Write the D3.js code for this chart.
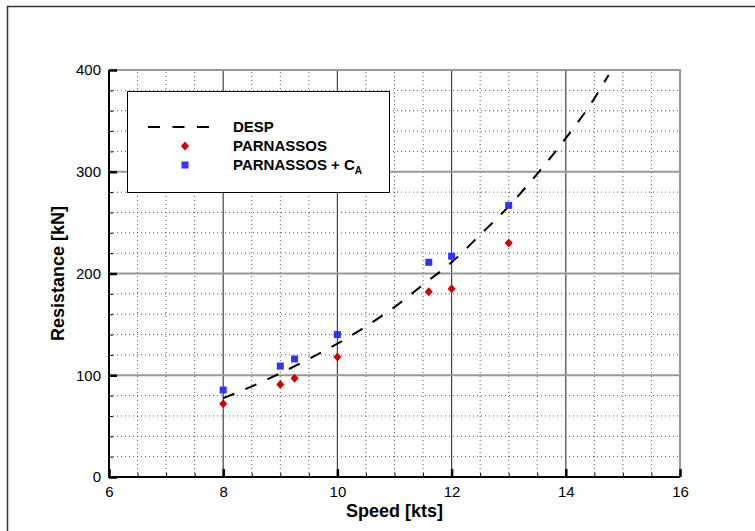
<!DOCTYPE html>
<meta charset="utf-8">
<style>
    body { margin: 0; background: #fff; }
    text { font-family: "Liberation Sans", Arial, sans-serif; }
    .tick-label { font-size: 15px; fill: #000; }
    .title { font-size: 18px; font-weight: bold; fill: #000; }
    .legend text { font-size: 15px; font-weight: bold; fill: #000; }
</style>
<svg width="755" height="531"></svg>
<script src="https://d3js.org/d3.v7.min.js"></script>
<script>

    // DESP curve
    var despSpeed = [8, 8.5, 9, 9.5, 10, 10.5, 11, 11.5, 12, 12.5, 13, 13.5, 14, 14.5, 14.75];
    var despRes = [77.5, 89, 102, 116, 131, 148, 167, 189, 211, 238, 266, 298, 333, 372, 395];

    // PARNASSOS points
    var parSpeed = [8, 9, 9.25, 10, 11.6, 12, 13];
    var parRes = [72, 91, 97, 118, 182, 185, 230];
    var parCaRes = [85.5, 109, 116, 140, 211, 217, 267];

    var xTicks = [6, 8, 10, 12, 14, 16];
    var yTicks = [0, 100, 200, 300, 400];

    var svg = d3.select("svg");

    var x = d3.scaleLinear().domain([6, 16]).range([109, 680]);
    var y = d3.scaleLinear().domain([0, 400]).range([477, 70]);

    // outer frame
    svg.append("path")
        .attr("d", "M7.5,531V6.5H755")
        .attr("fill", "none")
        .attr("stroke", "#333")
        .attr("stroke-width", 1.5);

    var xMinor = d3.range(6.5, 16, 0.5).filter(function (d) { return d % 2 !== 0; });
    var yMinor = d3.range(20, 400, 20).filter(function (d) { return d % 100 !== 0; });

    var grid = svg.append("g");

    grid.selectAll(".vminor").data(xMinor).enter().append("line")
        .attr("x1", function (d) { return x(d); })
        .attr("x2", function (d) { return x(d); })
        .attr("y1", y(0)).attr("y2", y(400))
        .attr("stroke", "#555").attr("stroke-width", 1)
        .attr("stroke-dasharray", "1,3");

    grid.selectAll(".hminor").data(yMinor).enter().append("line")
        .attr("y1", function (d) { return y(d); })
        .attr("y2", function (d) { return y(d); })
        .attr("x1", x(6)).attr("x2", x(16))
        .attr("stroke", "#555").attr("stroke-width", 1)
        .attr("stroke-dasharray", "1,3");

    grid.selectAll(".vmajor").data([8, 10, 12, 14]).enter().append("line")
        .attr("x1", function (d) { return x(d); })
        .attr("x2", function (d) { return x(d); })
        .attr("y1", y(0)).attr("y2", y(400))
        .attr("stroke", "#444").attr("stroke-width", 1.2);

    grid.selectAll(".hmajor").data([100, 200, 300]).enter().append("line")
        .attr("y1", function (d) { return y(d); })
        .attr("y2", function (d) { return y(d); })
        .attr("x1", x(6)).attr("x2", x(16))
        .attr("stroke", "#999").attr("stroke-width", 2);

    // top and right border
    svg.append("path")
        .attr("d", "M" + x(6) + "," + y(400) + "H" + x(16) + "V" + y(0))
        .attr("fill", "none")
        .attr("stroke", "#999")
        .attr("stroke-width", 2);

    // axes, ticks inward
    var xAxis = d3.axisBottom(x).tickValues(xTicks).tickSize(-8).tickPadding(9).tickFormat(d3.format("d"));
    var xAxisMinor = d3.axisBottom(x).tickValues(xMinor).tickSize(-4).tickFormat("");
    var yAxis = d3.axisLeft(y).tickValues(yTicks).tickSize(-8).tickPadding(8).tickFormat(d3.format("d"));
    var yAxisMinor = d3.axisLeft(y).tickValues(yMinor).tickSize(-4).tickFormat("");

    function styleAxis(g, w) {
        g.select(".domain").remove();
        g.selectAll(".tick line").attr("stroke", "#000").attr("stroke-width", w);
        g.selectAll(".tick text").attr("class", "tick-label").attr("font-family", null).attr("font-size", null);
    }

    svg.append("g").attr("transform", "translate(0," + y(0) + ")").call(xAxisMinor).call(styleAxis, 1);
    svg.append("g").attr("transform", "translate(0," + y(0) + ")").call(xAxis).call(styleAxis, 2.5);
    svg.append("g").attr("transform", "translate(" + x(6) + ",0)").call(yAxisMinor).call(styleAxis, 1);
    svg.append("g").attr("transform", "translate(" + x(6) + ",0)").call(yAxis).call(styleAxis, 2.5);

    svg.append("path")
        .attr("d", "M" + x(6) + "," + y(400) + "V" + y(0) + "H" + x(16))
        .attr("fill", "none")
        .attr("stroke", "#000")
        .attr("stroke-width", 2);

    // DESP dashed line
    var line = d3.line()
        .x(function (d, i) { return x(despSpeed[i]); })
        .y(function (d) { return y(d); })
        .curve(d3.curveMonotoneX);

    svg.append("path")
        .datum(despRes)
        .attr("d", line)
        .attr("fill", "none")
        .attr("stroke", "#000")
        .attr("stroke-width", 2)
        .attr("stroke-dasharray", "12,12");

    var diamond = "M0,-4.5L4,0L0,4.5L-4,0Z";

    svg.selectAll(".par").data(parRes).enter().append("path")
        .attr("d", diamond)
        .attr("transform", function (d, i) {
            return "translate(" + x(parSpeed[i]) + "," + y(d) + ")";
        })
        .attr("fill", "#d40000");

    svg.selectAll(".parca").data(parCaRes).enter().append("rect")
        .attr("x", function (d, i) { return x(parSpeed[i]) - 3.5; })
        .attr("y", function (d) { return y(d) - 3.5; })
        .attr("width", 7).attr("height", 7)
        .attr("fill", "#3333ff");

    // titles
    svg.append("text")
        .attr("class", "title")
        .attr("x", (x(6) + x(16)) / 2)
        .attr("y", 517)
        .attr("text-anchor", "middle")
        .text("Speed [kts]");

    svg.append("text")
        .attr("class", "title")
        .attr("transform", "translate(64," + (y(200)) + ") rotate(-90)")
        .attr("text-anchor", "middle")
        .text("Resistance [kN]");

    // legend
    var legend = svg.append("g").attr("class", "legend");
    legend.append("rect")
        .attr("x", 127.5).attr("y", 91.5)
        .attr("width", 262).attr("height", 101)
        .attr("fill", "#fff")
        .attr("stroke", "#000")
        .attr("stroke-width", 1);

    legend.append("line")
        .attr("x1", 148).attr("x2", 221)
        .attr("y1", 127).attr("y2", 127)
        .attr("stroke", "#000").attr("stroke-width", 2)
        .attr("stroke-dasharray", "12,12.5");

    legend.append("path")
        .attr("d", diamond)
        .attr("transform", "translate(185,146)")
        .attr("fill", "#d40000");

    legend.append("rect")
        .attr("x", 181.5).attr("y", 161.5)
        .attr("width", 7).attr("height", 7)
        .attr("fill", "#3333ff");

    legend.append("text").attr("x", 233).attr("y", 132).text("DESP");
    legend.append("text").attr("x", 233).attr("y", 151).text("PARNASSOS");
    var t = legend.append("text").attr("x", 233).attr("y", 170);
    t.append("tspan").text("PARNASSOS + C");
    t.append("tspan").attr("dy", 4).attr("font-size", "10px").text("A");

</script>
